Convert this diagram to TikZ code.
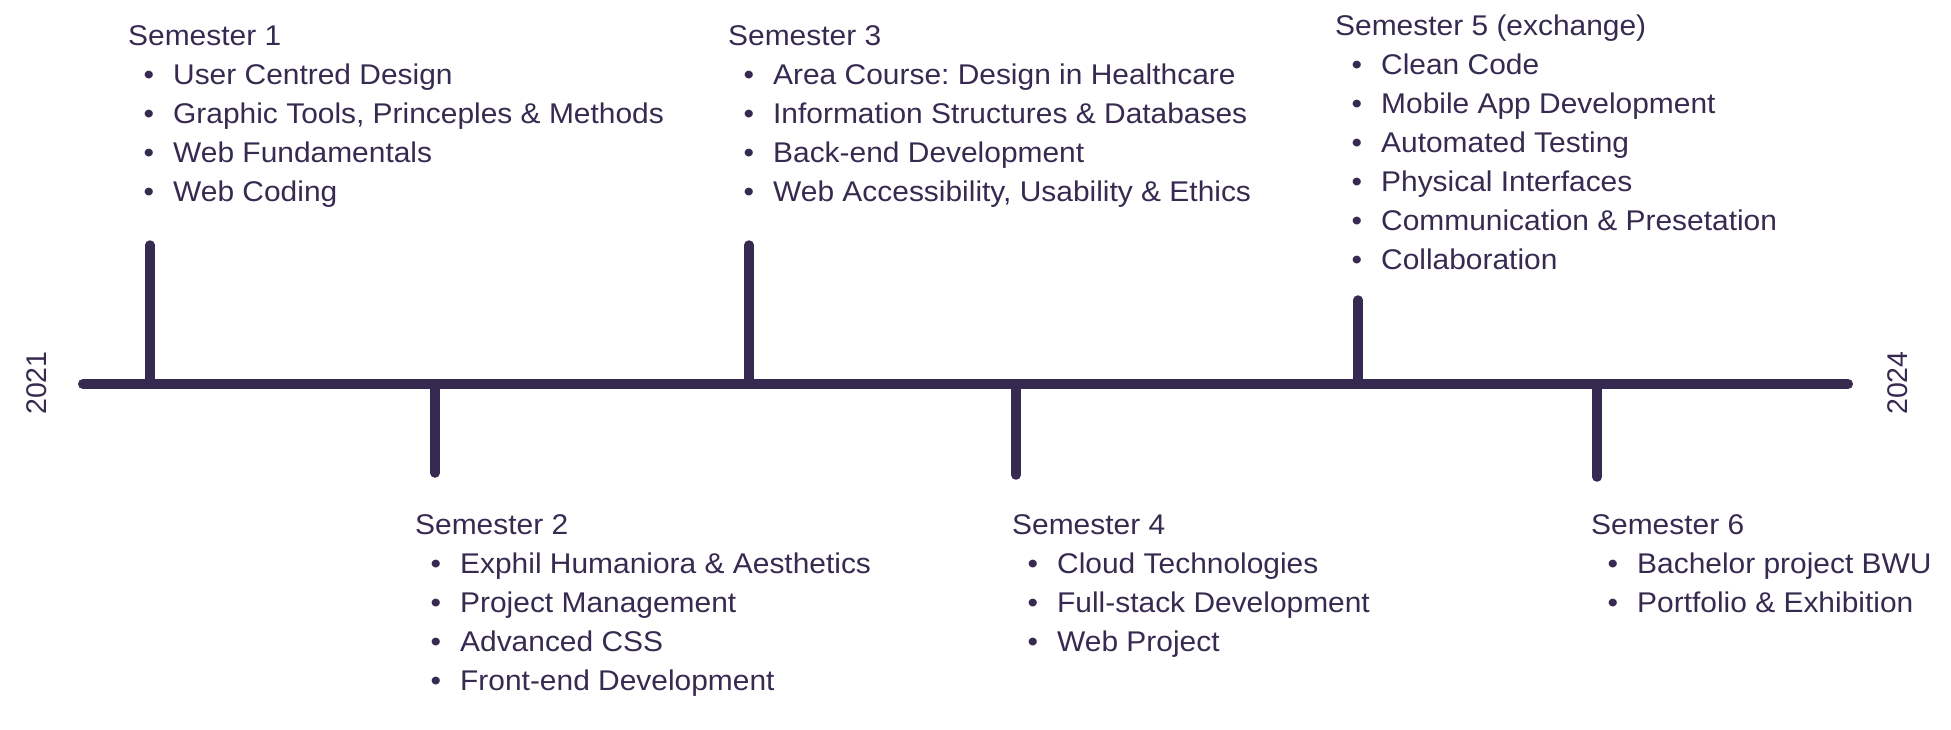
\documentclass[tikz,border=0pt]{standalone}
\usepackage{fontspec}
\setmainfont{Liberation Sans}
\usetikzlibrary{positioning}
\definecolor{ink}{RGB}{55,42,80}
\newfontfamily\wideA[FakeStretch=1.05]{Liberation Sans}
\newcommand{\sem}{\wideA\fontsize{28.5}{39}\selectfont\frenchspacing}
\tikzset{
  axis/.style={draw=ink, line width=10pt, line cap=round},
  tick/.style={draw=ink, line width=9.5pt, line cap=round},
  head/.style={text=ink, anchor=base west, inner sep=0pt, font=\sem},
  item/.style={head},
  year/.style={text=ink, rotate=90, inner sep=0pt, font=\fontsize{28.5}{30}\selectfont}
}

\begin{document}
\begin{tikzpicture}[x=1pt,y=-1pt]
    \useasboundingbox (0,0) rectangle (1951,729);
    % time axis
    \coordinate (a) at (83,384);
    \coordinate (b) at (1848,384);
    \draw[axis] (a) -- (b);
    \node[year] (y1) at (37,383) {2021};
    \node[year] (y2) at (1898,383) {2024};
    % ticks
    \foreach \n/\x/\y in {1/150/245, 2/435/473, 3/749/245, 4/1016/475, 5/1358/300, 6/1597/477} {
        \coordinate (t\n) at (\x,\y);
        \draw[tick] (t\n) -- (t\n |- a);
    }
    % semester 1
    \node[head] (s1) at (128,45) {Semester 1};
    \foreach \txt [count=\i] in {User Centred Design, {Graphic Tools, Princeples \& Methods}, Web Fundamentals, Web Coding}
        \node[item] (s1-\i) at (173,45+39*\i) {\llap{•\hspace{19pt}}\txt};
    % semester 2
    \node[head] (s2) at (415,534) {Semester 2};
    \foreach \txt [count=\i] in {Exphil Humaniora \& Aesthetics, Project Management, Advanced CSS, Front-end Development}
        \node[item] (s2-\i) at (460,534+39*\i) {\llap{•\hspace{19pt}}\txt};
    % semester 3
    \node[head] (s3) at (728,45) {Semester 3};
    \foreach \txt [count=\i] in {Area Course: Design in Healthcare, Information Structures \& Databases, Back-end Development, {Web Accessibility, Usability \& Ethics}}
        \node[item] (s3-\i) at (773,45+39*\i) {\llap{•\hspace{19pt}}\txt};
    % semester 4
    \node[head] (s4) at (1012,534) {Semester 4};
    \foreach \txt [count=\i] in {Cloud Technologies, Full-stack Development, Web Project}
        \node[item] (s4-\i) at (1057,534+39*\i) {\llap{•\hspace{19pt}}\txt};
    % semester 5
    \node[head] (s5) at (1335,35) {Semester 5 (exchange)};
    \foreach \txt [count=\i] in {Clean Code, Mobile App Development, Automated Testing, Physical Interfaces, Communication \& Presetation, Collaboration}
        \node[item] (s5-\i) at (1381,35+39*\i) {\llap{•\hspace{19pt}}\txt};
    % semester 6
    \node[head] (s6) at (1591,534) {Semester 6};
    \foreach \txt [count=\i] in {Bachelor project BWU, Portfolio \& Exhibition}
        \node[item] (s6-\i) at (1637,534+39*\i) {\llap{•\hspace{19pt}}\txt};
\end{tikzpicture}
\end{document}
